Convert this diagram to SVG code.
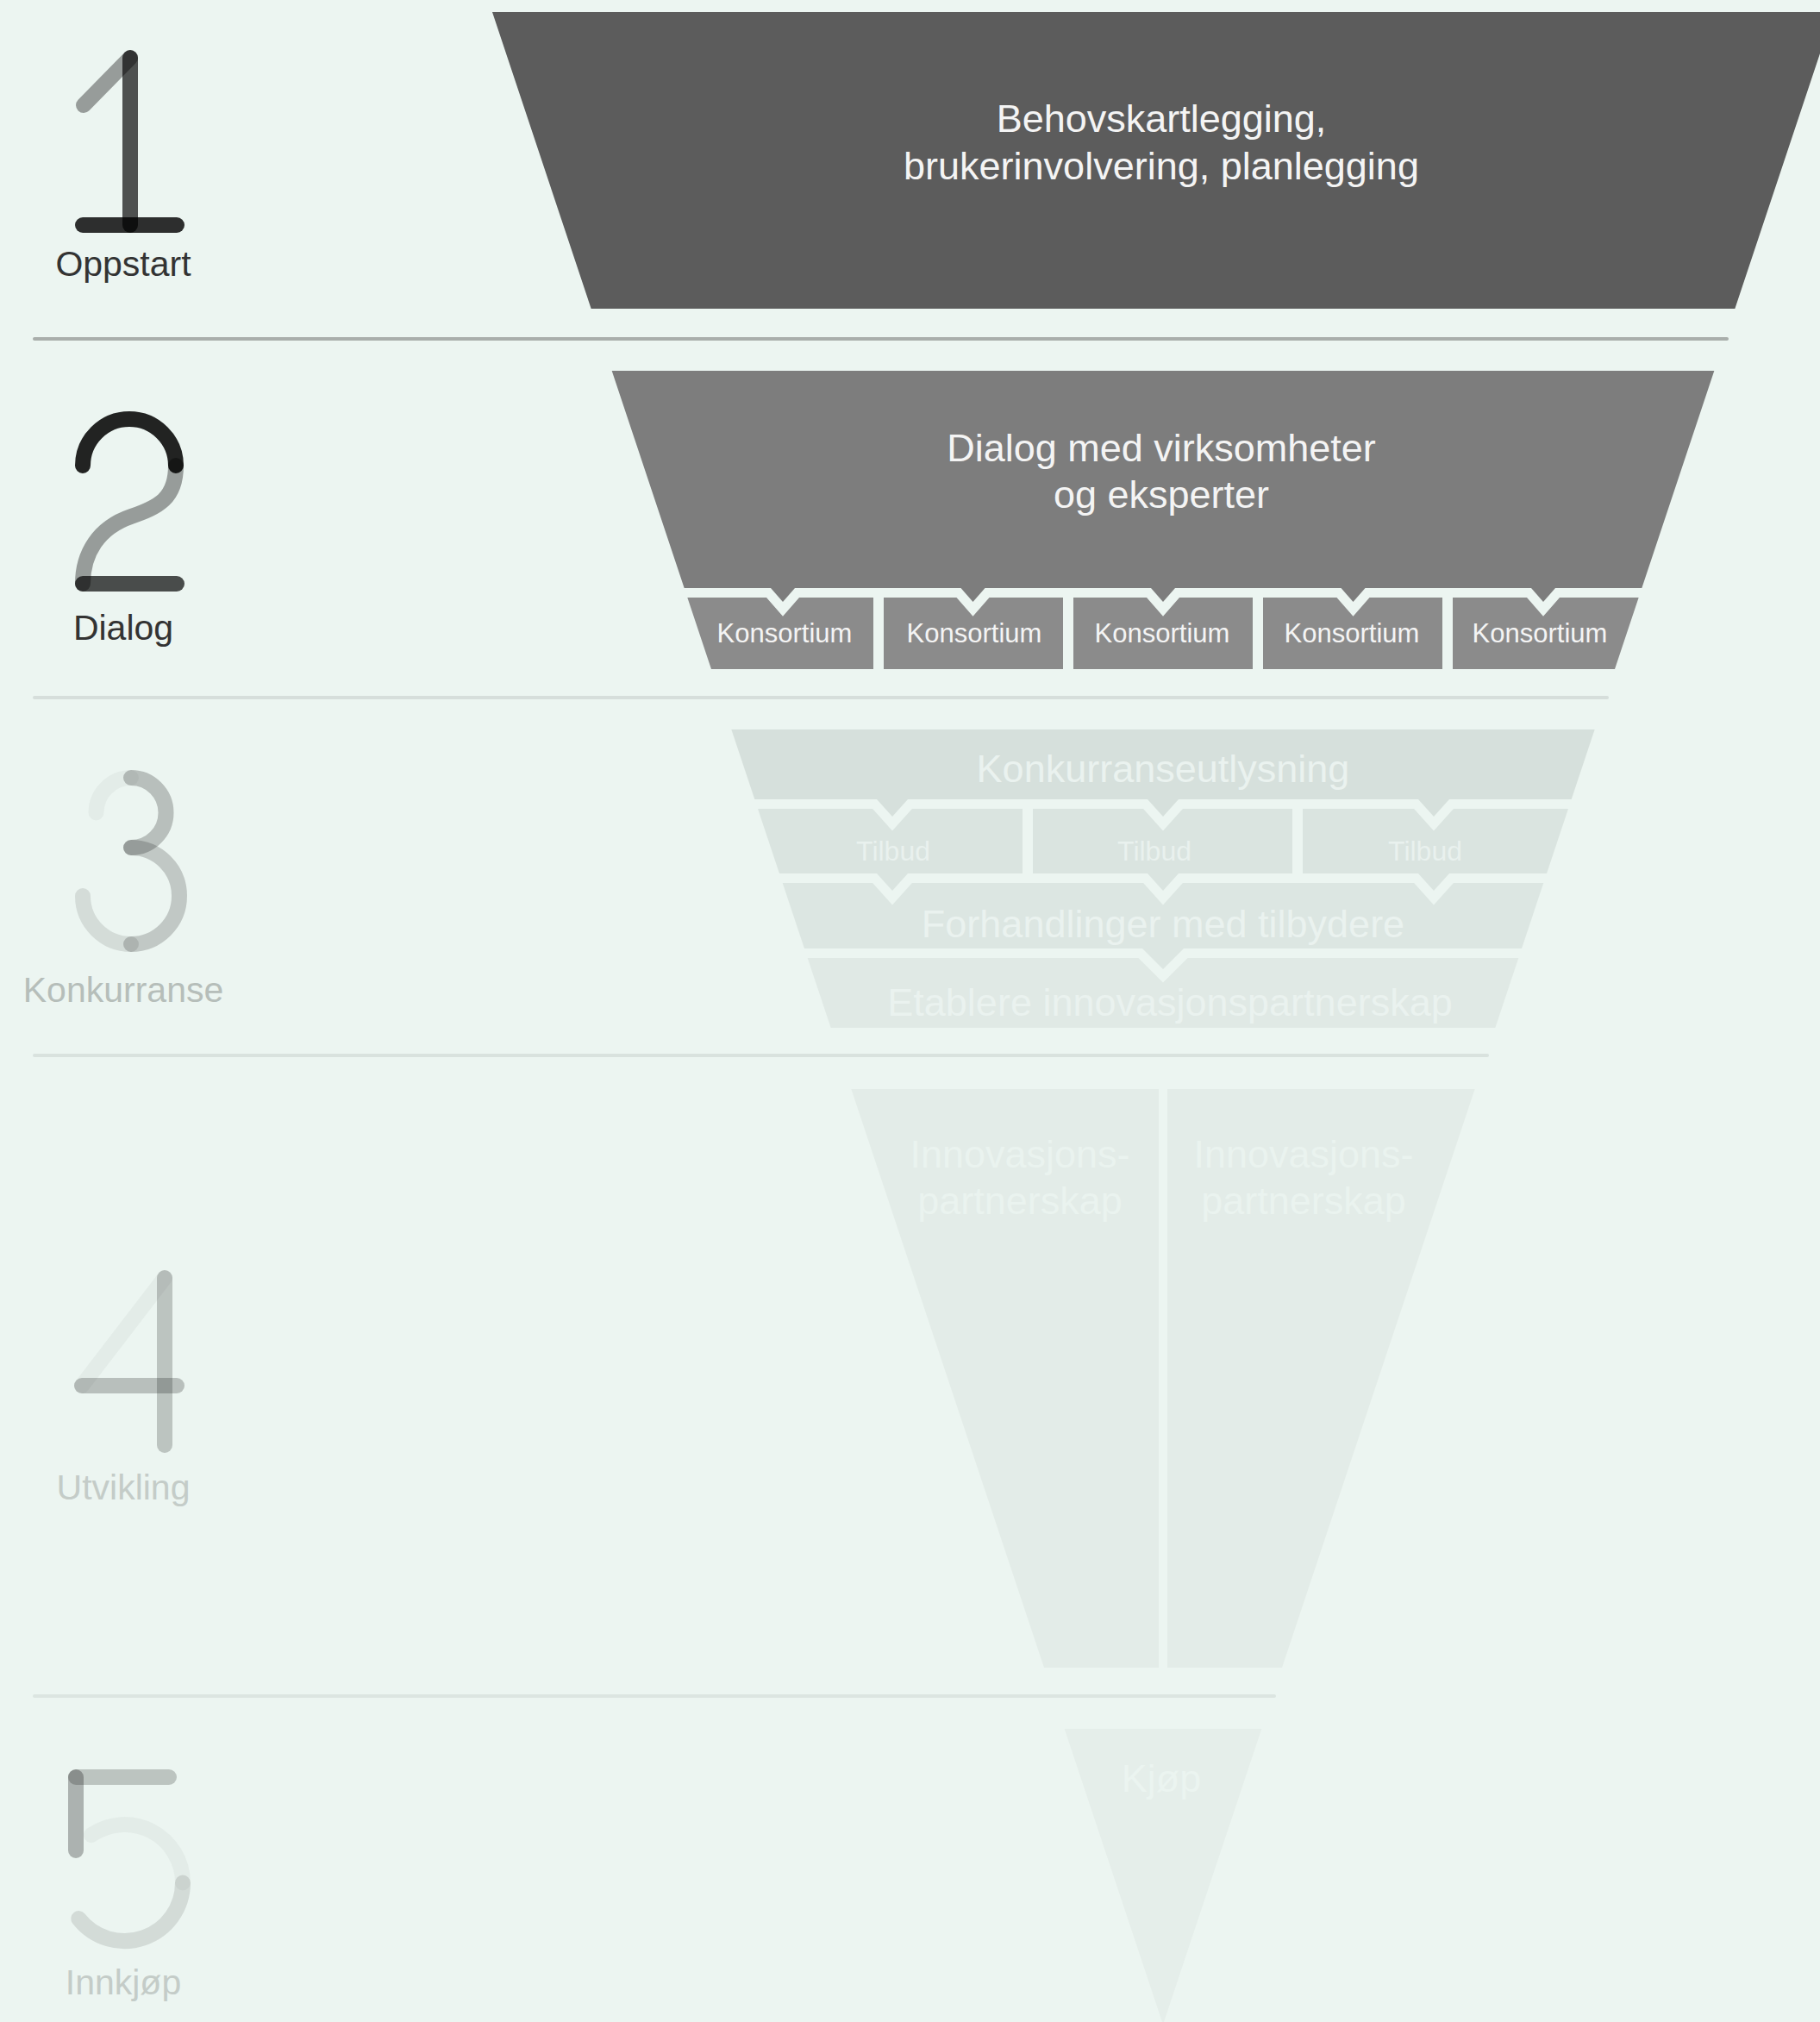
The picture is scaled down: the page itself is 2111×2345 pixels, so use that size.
<svg xmlns="http://www.w3.org/2000/svg" width="2111" height="2345" viewBox="0 0 2111 2345">
<style>
text{font-family:"Liberation Sans",Arial,sans-serif;text-anchor:middle}
.big{font-size:45px}
.lbl{font-size:41px}
.kons{font-size:31px;fill:#f4f4f4}
.tb{font-size:32px;fill:#e9f1ee}
.w{fill:#f4f4f4}
.pale{fill:#eaf2ef}
.d path,.d line{fill:none;stroke:#000;stroke-width:18;stroke-linecap:round}
.sep{stroke-width:4;stroke-linecap:round}
</style>
<rect width="2111" height="2345" fill="#ecf5f1"/>

<g id="separators">
<line class="sep" x1="40" y1="393" x2="2003" y2="393" stroke="#a9aeab"/>
<line class="sep" x1="40" y1="809" x2="1864" y2="809" stroke="#d6dedb"/>
<line class="sep" x1="40" y1="1224" x2="1725" y2="1224" stroke="#d9e2de"/>
<line class="sep" x1="40" y1="1967" x2="1478" y2="1967" stroke="#dce5e1"/>
</g>

<g id="stage1-label">
<g class="d">
<line x1="151" y1="67" x2="97" y2="122" stroke-opacity="0.36"/>
<line x1="151" y1="67" x2="151" y2="261" stroke-opacity="0.67"/>
<line x1="96" y1="261" x2="205" y2="261" stroke-opacity="0.81"/>
</g>
<text class="lbl" x="143" y="320" fill="#333">Oppstart</text>
</g>

<g id="stage2-label">
<g class="d">
<path d="M96,540 A54,54 0 0 1 204,540" stroke-opacity="0.86"/>
<path d="M204,540 C204,578 184,588 152,599 C114,612 96,642 96,677" stroke-opacity="0.36"/>
<line x1="96" y1="677" x2="205" y2="677" stroke-opacity="0.69"/>
</g>
<text class="lbl" x="143" y="742" fill="#333">Dialog</text>
</g>

<g id="stage3-label">
<g class="d">
<path d="M111.5,942.5 A40.5,40.5 0 0 1 152,902" stroke-opacity="0.035"/>
<path d="M152,902 A40.5,40.5 0 0 1 152,983" stroke-opacity="0.22"/>
<path d="M152,983 A56,56 0 0 1 152,1095" stroke-opacity="0.18"/>
<path d="M152,1095 A56,56 0 0 1 96,1039" stroke-opacity="0.1"/>
</g>
<text class="lbl" x="143" y="1162" fill="#b6beba">Konkurranse</text>
</g>

<g id="stage4-label">
<g class="d">
<line x1="191" y1="1482" x2="95" y2="1607" stroke-opacity="0.035"/>
<line x1="191" y1="1482" x2="191" y2="1676" stroke-opacity="0.2"/>
<line x1="95" y1="1607" x2="205" y2="1607" stroke-opacity="0.22"/>
</g>
<text class="lbl" x="143" y="1739" fill="#c4ccc8">Utvikling</text>
</g>

<g id="stage5-label">
<g class="d">
<line x1="88" y1="2061" x2="88" y2="2146" stroke-opacity="0.27"/>
<line x1="88" y1="2061" x2="196" y2="2061" stroke-opacity="0.2"/>
<path d="M105.8,2128.2 A67.5,67.5 0 0 1 212,2183.5" stroke-opacity="0.035"/>
<path d="M212,2183.5 A67.5,67.5 0 0 1 91.3,2225.1" stroke-opacity="0.105"/>
</g>
<text class="lbl" x="143" y="2313" fill="#c4ccc8">Innkjøp</text>
</g>

<g id="stage1-oppstart">
<polygon points="571,14 2127,14 2012.33,358 685.67,358" fill="#5c5c5c"/>
<text class="big w" x="1347" y="153">Behovskartlegging,</text>
<text class="big w" x="1347" y="208">brukerinvolvering, planlegging</text>
</g>

<g id="stage2-dialog">
<polygon points="709.67,430 1988.33,430 1904.33,682 1804,682 1790,698 1776,682 1583.5,682 1569.5,698 1555.5,682 1363,682 1349,698 1335,682 1142.5,682 1128.5,698 1114.5,682 922,682 908,698 894,682 793.67,682" fill="#7d7d7d"/>
<text class="big w" x="1347" y="535">Dialog med virksomheter</text>
<text class="big w" x="1347" y="589">og eksperter</text>
</g>

<g id="konsortium-1">
<polygon points="797.33,693 889,693 908,714.7 927,693 1013,693 1013,776 825,776" fill="#8b8b8b"/>
<text class="kons" x="910" y="745">Konsortium</text>
</g>
<g id="konsortium-2">
<polygon points="1025,693 1109.5,693 1128.5,714.7 1147.5,693 1233,693 1233,776 1025,776" fill="#8b8b8b"/>
<text class="kons" x="1130" y="745">Konsortium</text>
</g>
<g id="konsortium-3">
<polygon points="1245,693 1330,693 1349,714.7 1368,693 1453,693 1453,776 1245,776" fill="#8b8b8b"/>
<text class="kons" x="1348" y="745">Konsortium</text>
</g>
<g id="konsortium-4">
<polygon points="1465,693 1550.5,693 1569.5,714.7 1588.5,693 1673,693 1673,776 1465,776" fill="#8b8b8b"/>
<text class="kons" x="1568" y="745">Konsortium</text>
</g>
<g id="konsortium-5">
<polygon points="1685,693 1771,693 1790,714.7 1809,693 1900.67,693 1873,776 1685,776" fill="#8b8b8b"/>
<text class="kons" x="1786" y="745">Konsortium</text>
</g>

<g id="konkurranseutlysning">
<polygon points="848.33,846 1849.67,846 1822.67,927 1681,927 1663,947 1645,927 1367,927 1349,947 1331,927 1053,927 1035,947 1017,927 875.33,927" fill="#d6e0dc"/>
<text class="big pale" x="1349" y="907">Konkurranseutlysning</text>
</g>

<g id="tilbud-1">
<polygon points="879,938 1012.1,938 1035,963.4 1057.9,938 1186,938 1186,1013 1053,1013 1035,1033 1017,1013 904,1013" fill="#dae4e0"/>
<text class="tb" x="1036" y="998">Tilbud</text>
</g>
<g id="tilbud-2">
<polygon points="1198,938 1326.1,938 1349,963.4 1371.9,938 1499,938 1499,1013 1367,1013 1349,1033 1331,1013 1198,1013" fill="#dae4e0"/>
<text class="tb" x="1339" y="998">Tilbud</text>
</g>
<g id="tilbud-3">
<polygon points="1511,938 1640.1,938 1663,963.4 1685.9,938 1819,938 1794,1013 1681,1013 1663,1033 1645,1013 1511,1013" fill="#dae4e0"/>
<text class="tb" x="1653" y="998">Tilbud</text>
</g>

<g id="forhandlinger">
<polygon points="907.67,1024 1012.1,1024 1035,1049.4 1057.9,1024 1326.1,1024 1349,1049.4 1371.9,1024 1640.1,1024 1663,1049.4 1685.9,1024 1790.33,1024 1765,1100 1373,1100 1349,1124 1325,1100 933,1100" fill="#dce6e2"/>
<text class="big pale" x="1349" y="1087">Forhandlinger med tilbydere</text>
</g>

<g id="etablere">
<polygon points="936.67,1111 1320.4,1111 1349,1139.6 1377.6,1111 1761.33,1111 1734.33,1192 963.67,1192" fill="#e0e9e5"/>
<text class="big pale" x="1357" y="1178">Etablere innovasjonspartnerskap</text>
</g>

<g id="innovasjonspartnerskap-1">
<polygon points="987.33,1263 1344,1263 1344,1934 1211,1934" fill="#e3ece8"/>
<text class="big" x="1183" y="1354" fill="#eaf3ef">Innovasjons-</text>
<text class="big" x="1183" y="1408" fill="#eaf3ef">partnerskap</text>
</g>
<g id="innovasjonspartnerskap-2">
<polygon points="1354,1263 1710.67,1263 1487,1934 1354,1934" fill="#e3ece8"/>
<text class="big" x="1512" y="1354" fill="#eaf3ef">Innovasjons-</text>
<text class="big" x="1512" y="1408" fill="#eaf3ef">partnerskap</text>
</g>

<g id="kjop">
<polygon points="1234.67,2005 1463.33,2005 1349,2348" fill="#e5eeea"/>
<text class="big" x="1347" y="2078" fill="#ebf4f0">Kjøp</text>
</g>
</svg>
